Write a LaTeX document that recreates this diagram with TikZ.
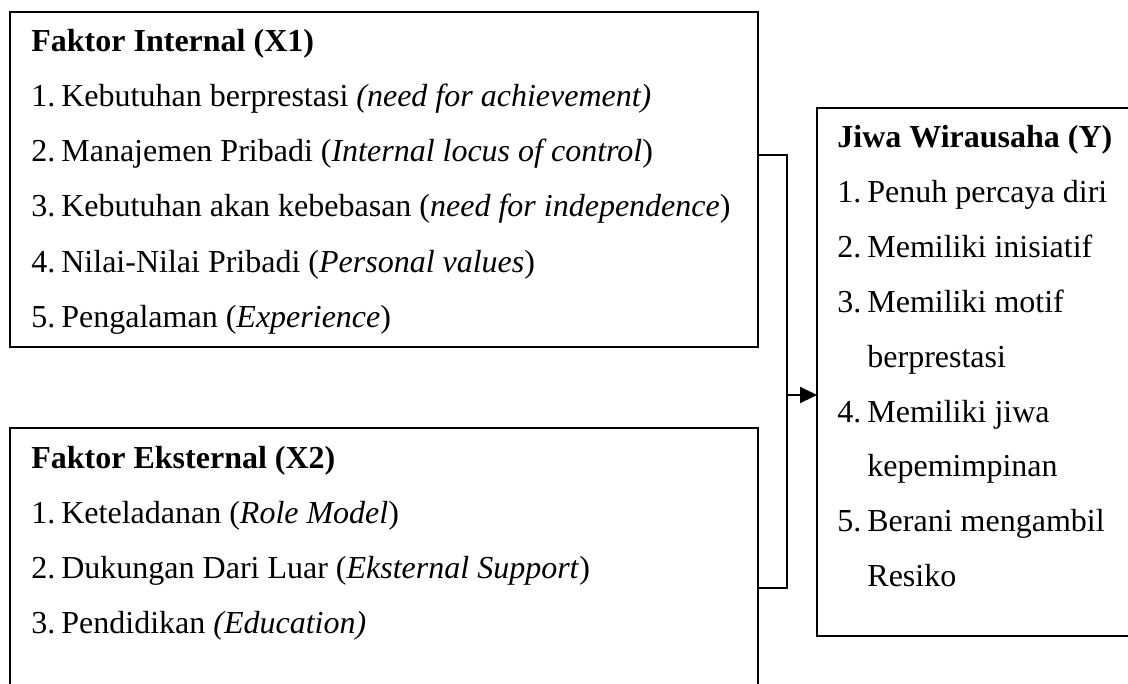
\documentclass[tikz,border=0pt]{standalone}
\usepackage{fontspec}
\setmainfont{Liberation Serif}
\usetikzlibrary{arrows.meta, positioning}

\newcommand{\ukuran}{\fontsize{16}{19}\selectfont}
\newcommand{\nomor}[1]{\makebox[15pt][l]{#1}}

\tikzset{
	kotak/.style={draw, line width=1.1pt, outer sep=0pt, inner sep=0pt, anchor=north west},
	butir/.style={anchor=base west, inner sep=0pt, font=\ukuran},
	judul/.style={anchor=base west, inner sep=0pt, font=\ukuran\bfseries},
	garis/.style={line width=1.1pt},
}

\begin{document}
\begin{tikzpicture}[x=0.5pt, y=-0.5pt]
			\clip (0,0) rectangle (1128,684);

			% kotak
			\node[kotak, minimum width=374pt, minimum height=167.5pt] (intl) at (10,12) {};
			\node[kotak, minimum width=374pt, minimum height=160pt] (ekst) at (10,428) {};
			\node[kotak, minimum width=170pt, minimum height=264pt] (jiwa) at (817,108) {};

			% faktor internal
			\node[judul] (intl-0) at (31,52) {Faktor Internal (X1)};
			\foreach \teks [count=\i] in {
				{\nomor{1.}Kebutuhan berprestasi \textit{(need for achievement)}},
				{\nomor{2.}Manajemen Pribadi (\textit{Internal locus of control})},
				{\nomor{3.}Kebutuhan akan kebebasan (\textit{need for independence})},
				{\nomor{4.}Nilai-Nilai Pribadi (\textit{Personal values})},
				{\nomor{5.}Pengalaman (\textit{Experience})}}
			{
				\node[butir] (intl-\i) at (31,{52+55*\i}) {\teks};
			}

			% faktor eksternal
			\node[judul] (ekst-0) at (31,468) {Faktor Eksternal (X2)};
			\foreach \teks [count=\i] in {
				{\nomor{1.}Keteladanan (\textit{Role Model})},
				{\nomor{2.}Dukungan Dari Luar (\textit{Eksternal Support})},
				{\nomor{3.}Pendidikan \textit{(Education)}}}
			{
				\node[butir] (ekst-\i) at (31,{468+55*\i}) {\teks};
			}

			% jiwa wirausaha
			\node[judul] (jiwa-0) at (837,148) {Jiwa Wirausaha (Y)};
			\foreach \teks [count=\i] in {
				{\nomor{1.}Penuh percaya diri},
				{\nomor{2.}Memiliki inisiatif},
				{\nomor{3.}Memiliki motif},
				{\nomor{}berprestasi},
				{\nomor{4.}Memiliki jiwa},
				{\nomor{}kepemimpinan},
				{\nomor{5.}Berani mengambil},
				{\nomor{}Resiko}}
			{
				\node[butir] (jiwa-\i) at (837,{148+54.8*\i}) {\teks};
			}

			% penghubung
			\coordinate (simpul) at (787,395);
			\draw[garis] (intl.north east) ++(0,143) -| (simpul);
			\draw[garis] (ekst.east) -| (simpul);
			\draw[garis, -{Triangle[length=8.5pt, width=8pt]}] (simpul) -- (simpul -| jiwa.west);
		\end{tikzpicture}
\end{document}
